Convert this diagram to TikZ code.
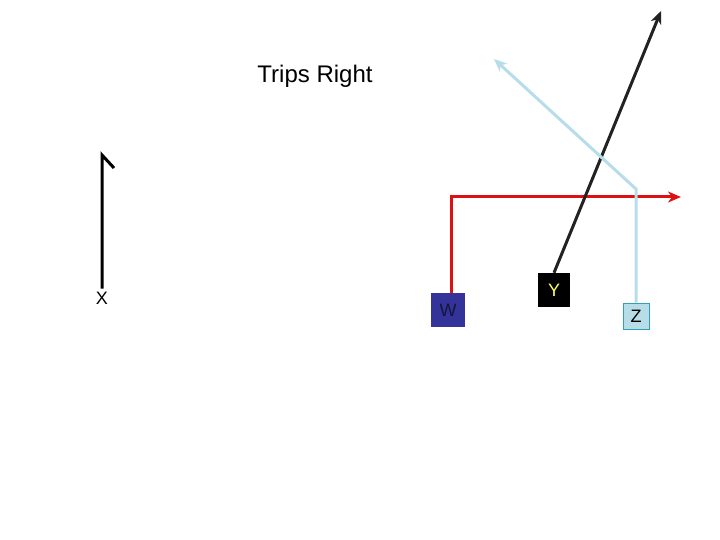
\documentclass[tikz,border=0pt]{standalone}
\usepackage{fontspec}
\setmainfont{Liberation Sans}
\usetikzlibrary{arrows.meta}
\definecolor{wblue}{HTML}{333399}
\definecolor{wtext}{HTML}{14143C}
\definecolor{routered}{HTML}{DD1111}
\definecolor{zfill}{HTML}{B7DDE8}
\definecolor{zline}{HTML}{B7DDE8}
\definecolor{zborder}{HTML}{31A0B8}
\definecolor{ydark}{HTML}{222222}
\definecolor{yyellow}{HTML}{FFFF66}
\begin{document}
\begin{tikzpicture}[x=1pt,y=-1pt,
  lbl/.style={font=\fontsize{18}{20}\selectfont, inner sep=3pt},
  player/.style={minimum width=#1, minimum height=#1, inner sep=0pt, font=\fontsize{18}{20}\selectfont},
  route/.style={line width=3pt, line join=miter},
  tip/.style={-{Stealth[length=13pt,width=11pt,inset=4pt]}}
]
\useasboundingbox (0,0) rectangle (720,540);
\node[font=\fontsize{24}{28}\selectfont] (title) at (315,76) {Trips Right};
% X
\node[lbl] (x) at (102,298) {X};
\coordinate (xtop) at (102,155);
\coordinate (xend) at (114,168);
\draw[route, black] (x.north) -- (xtop) -- (xend);
% W
\node[player=34pt, fill=wblue, text=wtext] (w) at (448,310) {W};
\coordinate (wcorner) at (451,197);
\coordinate (wend) at (681,197);
\draw[route, routered, tip] (w.north -| wcorner) -- (wcorner) -- (wend);
% Y
\node[player=32pt, fill=black, text=yyellow, minimum height=34pt] (y) at (554,290) {Y};
\coordinate (yend) at (661,11);
\draw[route, ydark, tip] (y.north) -- (yend);
% Z
\node[player=26pt, fill=zfill, draw=zborder, line width=0.8pt, text=black] (z) at (636,316) {Z};
\coordinate (zcorner) at (636,189);
\coordinate (zend) at (494,59);
\draw[route, zline, tip] (z.north) -- (zcorner) -- (zend);
\end{tikzpicture}
\end{document}
